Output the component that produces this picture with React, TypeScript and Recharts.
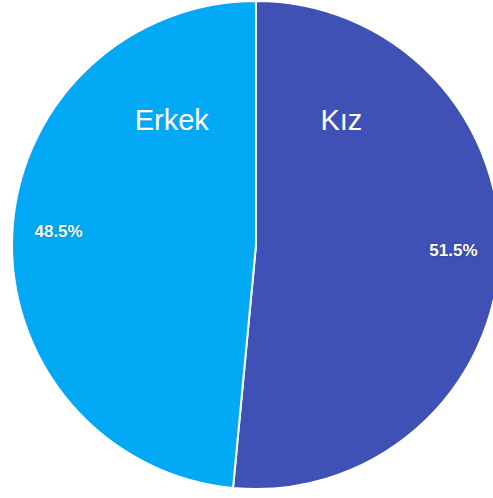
import { PieChart, Pie, Cell } from "recharts"

const names = ["Kız", "Erkek"]
const values = [51.5, 48.5]
const colors = ["#3F51B5", "#03A9F4"]

const data = names.map((name, i) => ({ name, value: values[i] }))

const RADIAN = Math.PI / 180

// percent inside the slice, name in the upper part of each half
const renderLabel = (props: any) => {
  const { cx, cy, midAngle, outerRadius, index, value } = props
  const r = outerRadius * 0.81
  const x = cx + r * Math.cos(-midAngle * RADIAN)
  const y = cy + r * Math.sin(-midAngle * RADIAN) - 4
  const nameX = index === 0 ? cx + outerRadius * 0.35 : cx - outerRadius * 0.345
  const nameY = cy - outerRadius * 0.472
  return (
    <g>
      <text
        x={x}
        y={y}
        fill="#ffffff"
        textAnchor="middle"
        dominantBaseline="central"
        fontFamily="Liberation Sans, Arial, sans-serif"
        fontWeight="bold"
        fontSize={17}
        style={{ textShadow: "0 0 2px rgba(0,0,0,0.35)" }}
      >
        {value.toFixed(1)}%
      </text>
      <text
        x={nameX}
        y={nameY}
        fill="#ffffff"
        textAnchor="middle"
        fontFamily="Liberation Sans, Arial, sans-serif"
        fontSize={29}
      >
        {names[index]}
      </text>
    </g>
  )
}

export default function App() {
  return (
    <div style={{ position: "absolute", left: 0, top: 0, width: 493, height: 498, overflow: "hidden", background: "#fff" }}>
      <PieChart width={493} height={498} margin={{ top: 0, right: 0, bottom: 0, left: 0 }}>
        <Pie
          data={data}
          dataKey="value"
          nameKey="name"
          cx={256}
          cy={245}
          outerRadius={244}
          startAngle={90}
          endAngle={-270}
          stroke="#ffffff"
          strokeWidth={2}
          label={renderLabel}
          labelLine={false}
          isAnimationActive={false}
        >
          {data.map((d, i) => (
            <Cell key={d.name} fill={colors[i]} />
          ))}
        </Pie>
      </PieChart>
    </div>
  )
}
